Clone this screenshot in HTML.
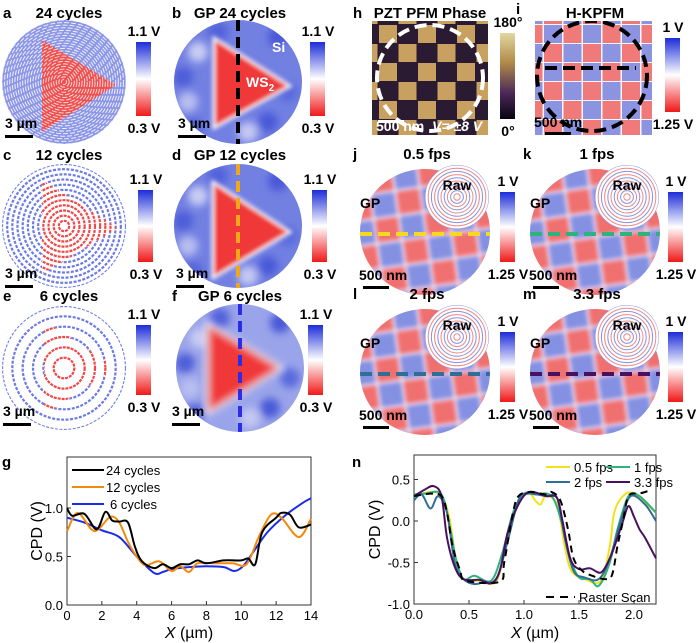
<!DOCTYPE html>
<html><head><meta charset="utf-8"><style>
html,body{margin:0;padding:0;background:#fff}
svg{display:block;font-family:"Liberation Sans",sans-serif}
.t{font-weight:bold;font-size:15px}
.cb{font-weight:bold;font-size:14px}
.ax{font-size:13px}
</style></head><body>
<svg id="fig" width="700" height="643" viewBox="0 0 700 643">
<defs>
<linearGradient id="gBR" x1="0" y1="0" x2="0" y2="1"><stop offset="0" stop-color="#1c2cd8"/><stop offset="0.5" stop-color="#ffffff"/><stop offset="1" stop-color="#f01818"/></linearGradient>
<linearGradient id="gPFM" x1="0" y1="0" x2="0" y2="1"><stop offset="0" stop-color="#e0d8a0"/><stop offset="0.35" stop-color="#b08848"/><stop offset="0.7" stop-color="#4a2858"/><stop offset="1" stop-color="#080410"/></linearGradient>
<filter id="blur2"><feGaussianBlur stdDeviation="2"/></filter>
<filter id="blur4"><feGaussianBlur stdDeviation="4"/></filter>
</defs>
<g id="panels"></g>
<g id="chartG"></g>
<g id="chartN"></g>
</svg>
<script>
// ---------- chart data ----------
const gX24 = [0,0.3,1,1.7,2.2,2.6,3,3.5,3.9,4.3,5,5.5,6,6.5,7,7.5,8,9,10,10.4,10.8,11.2,12,12.3,12.8,13.3,14];
const gY24 = [1.0,0.92,0.94,0.78,0.96,0.87,0.86,0.85,0.6,0.45,0.38,0.42,0.38,0.42,0.42,0.46,0.43,0.46,0.46,0.48,0.42,0.75,0.9,0.95,0.93,0.8,0.83];
const gX12 = [0,0.6,1.4,1.8,2.5,3,3.5,4,4.5,5.3,6,6.5,7,7.5,8.5,9.5,10.3,11,11.7,12.3,13.3,14];
const gY12 = [0.76,0.95,0.78,0.78,0.91,0.85,0.65,0.5,0.41,0.45,0.35,0.40,0.34,0.43,0.43,0.43,0.42,0.7,0.93,0.90,0.70,0.89];
const gX6 = [0,1,2,3,4,5,5.5,6,7,8,9,9.6,10.1,10.7,11.5,12.5,13.5,14];
const gY6 = [0.9,0.85,0.77,0.7,0.5,0.33,0.34,0.37,0.39,0.40,0.39,0.35,0.40,0.55,0.75,0.92,1.05,1.1];
const gXTicks = [0,2,4,6,8,10,12,14];
const gYTicks = [0.0,0.5,1.0];
const gLegend = ["24 cycles","12 cycles","6 cycles"];

const nXr = [0,0.15,0.25,0.3,0.35,0.42,0.47,0.78,0.82,0.9,0.95,1.05,1.2,1.25,1.33,1.4,1.45,1.53,1.6,1.73,1.8,1.85,1.9,1.95,2.05,2.15];
const nYr = [0.3,0.33,0.3,0.1,-0.3,-0.6,-0.72,-0.73,-0.5,0.1,0.3,0.35,0.32,0.35,0.25,-0.1,-0.45,-0.6,-0.65,-0.7,-0.65,-0.3,0,0.3,0.33,0.37];
const nX05 = [0,0.15,0.25,0.32,0.38,0.45,0.6,0.75,0.85,0.95,1.05,1.1,1.15,1.2,1.3,1.37,1.43,1.55,1.7,1.78,1.82,1.9,2.0,2.2];
const nY05 = [0.3,0.35,0.3,0.05,-0.45,-0.7,-0.72,-0.72,-0.2,0.25,0.33,0.25,0.2,0.3,0.2,-0.3,-0.6,-0.7,-0.72,-0.3,0.1,0.3,0.33,0.1];
const nX1 = [0,0.1,0.25,0.33,0.38,0.45,0.55,0.7,0.8,0.9,1.0,1.1,1.25,1.35,1.42,1.5,1.6,1.68,1.78,1.85,1.95,2.05,2.2];
const nY1 = [0.32,0.33,0.32,-0.1,-0.45,-0.7,-0.66,-0.72,-0.4,0.1,0.33,0.32,0.3,-0.05,-0.45,-0.68,-0.7,-0.78,-0.5,-0.1,0.3,0.3,0.1];
const nX2 = [0,0.07,0.15,0.22,0.3,0.37,0.45,0.55,0.65,0.75,0.85,0.95,1.03,1.2,1.3,1.37,1.45,1.55,1.68,1.78,1.88,1.97,2.1,2.2];
const nY2 = [0.25,0.32,0.15,0.3,0.1,-0.5,-0.7,-0.76,-0.73,-0.7,-0.25,0.25,0.33,0.3,0.28,-0.2,-0.6,-0.68,-0.7,-0.45,0,0.3,0.2,0.0];
const nX33 = [0,0.1,0.18,0.25,0.3,0.37,0.45,0.6,0.7,0.78,0.85,0.95,1.05,1.2,1.3,1.35,1.42,1.5,1.6,1.7,1.78,1.85,1.9,1.95,2.0,2.05,2.1,2.2];
const nY33 = [0.3,0.38,0.42,0.3,-0.2,-0.55,-0.7,-0.71,-0.75,-0.6,-0.15,0.2,0.35,0.3,0.28,0.0,-0.45,-0.58,-0.57,-0.62,-0.45,-0.2,0.0,0.18,0.05,-0.1,-0.2,-0.45];
const nXTicks = [0.0,0.5,1.0,1.5,2.0];
const nYTicks = [-1.0,-0.5,0.0,0.5];
const nLegend = ["0.5 fps","1 fps","2 fps","3.3 fps","Raster Scan"];

const NS="http://www.w3.org/2000/svg";
function mk(tag, parent, attrs){const e=document.createElementNS(NS,tag);for(const k in attrs)e.setAttribute(k,attrs[k]);parent.appendChild(e);return e;}
function smooth(pts){let d="M"+pts[0][0]+","+pts[0][1];for(let i=0;i<pts.length-1;i++){const p0=pts[Math.max(0,i-1)],p1=pts[i],p2=pts[i+1],p3=pts[Math.min(pts.length-1,i+2)];const c1x=p1[0]+(p2[0]-p0[0])/6,c1y=p1[1]+(p2[1]-p0[1])/6,c2x=p2[0]-(p3[0]-p1[0])/6,c2y=p2[1]-(p3[1]-p1[1])/6;d+=" C"+c1x+","+c1y+" "+c2x+","+c2y+" "+p2[0]+","+p2[1];}return d;}

// ---------- chart g ----------
(function(){
 const G=document.getElementById('chartG');
 const L=67,R=311,T=457,B=605;
 const sx=v=>L+(v-0)/(14-0)*(R-L);
 const sy=v=>B-(v-0)/(1.0-0)*97;
 const f=mk('rect',G,{x:L,y:T,width:R-L,height:B-T,fill:'none',stroke:'#333','stroke-width':1});
 
 gXTicks.forEach(v=>{mk('line',G,{x1:sx(v),x2:sx(v),y1:B,y2:B-4,stroke:'#333'});const t=mk('text',G,{x:sx(v),y:B+15,'text-anchor':'middle',class:'ax'});t.textContent=v;});
 gYTicks.forEach(v=>{mk('line',G,{x1:L,x2:L+4,y1:sy(v),y2:sy(v),stroke:'#333'});const t=mk('text',G,{x:L-4,y:sy(v)+5,'text-anchor':'end',class:'ax'});t.textContent=v.toFixed(1);});
 const xt=mk('text',G,{x:(L+R)/2,y:638,'text-anchor':'middle','font-size':'16'});xt.innerHTML='<tspan font-style="italic">X</tspan> (µm)';
 const yt=mk('text',G,{x:0,y:0,'text-anchor':'middle','font-size':'16',transform:`translate(42,${(T+B)/2}) rotate(-90)`});yt.textContent='CPD (V)';
 const ser=[[gX24,gY24,'#000'],[gX12,gY12,'#f58a0a'],[gX6,gY6,'#1a2ce8']];
 ser.slice().reverse().forEach(([xs,ys,c],k)=>{const p=mk('path',G,{d:smooth(xs.map((x,i)=>[sx(x),sy(ys[i])])),fill:'none',stroke:c,'stroke-width':2});});
 ser.forEach(([xs,ys,c],i)=>{const y=470+i*17;mk('line',G,{x1:72,x2:104,y1:y,y2:y,stroke:c,'stroke-width':2});const t=mk('text',G,{x:i==2?110:106,y:y+5,'font-size':'13'});t.textContent=gLegend[i];});
 const lb=mk('text',G,{x:2,y:467,class:'t'});lb.textContent='g';
})();

// ---------- chart n ----------
(function(){
 const G=document.getElementById('chartN');
 const L=414,R=656,T=455,B=604;
 const sx=v=>L+v*110;
 const sy=v=>521-v*83;
 const f=mk('rect',G,{x:L,y:T,width:R-L,height:B-T,fill:'none',stroke:'#333','stroke-width':1});
 
 nXTicks.forEach(v=>{mk('line',G,{x1:sx(v),x2:sx(v),y1:B,y2:B-4,stroke:'#333'});const t=mk('text',G,{x:sx(v),y:B+15,'text-anchor':'middle',class:'ax'});t.textContent=v.toFixed(1);});
 nYTicks.forEach(v=>{mk('line',G,{x1:L,x2:L+4,y1:sy(v),y2:sy(v),stroke:'#333'});const t=mk('text',G,{x:L-4,y:sy(v)+5,'text-anchor':'end',class:'ax'});t.textContent=v.toFixed(1);});
 const xt=mk('text',G,{x:(L+R)/2,y:638,'text-anchor':'middle','font-size':'16'});xt.innerHTML='<tspan font-style="italic">X</tspan> (µm)';
 const yt=mk('text',G,{x:0,y:0,'text-anchor':'middle','font-size':'16',transform:`translate(380,${(T+B)/2}) rotate(-90)`});yt.textContent='CPD (V)';
 const ser=[[nX05,nY05,'#f2e21c'],[nX1,nY1,'#2eb37a'],[nX2,nY2,'#2f6f95'],[nX33,nY33,'#4a1060']];
 ser.forEach(([xs,ys,c])=>{const p=mk('path',G,{d:smooth(xs.map((x,i)=>[sx(x),sy(ys[i])])),fill:'none',stroke:c,'stroke-width':2});});
 const r=mk('path',G,{d:smooth(nXr.map((x,i)=>[sx(x),sy(nYr[i])])),fill:'none',stroke:'#000','stroke-width':2,'stroke-dasharray':'7,5'});
 const pos=[[546,467],[606,467],[546,482],[606,482]];
 ser.forEach(([xs,ys,c],i)=>{const [x,y]=pos[i];mk('line',G,{x1:x,x2:x+24,y1:y,y2:y,stroke:c,'stroke-width':2});const t=mk('text',G,{x:x+28,y:y+5,'font-size':'13'});t.textContent=nLegend[i];});
 mk('line',G,{x1:546,x2:575,y1:597,y2:597,stroke:'#000','stroke-width':2,'stroke-dasharray':'8,6'});
 const rt=mk('text',G,{x:579,y:602,'font-size':'13'});rt.textContent=nLegend[4];
 const lb=mk('text',G,{x:352,y:467,class:'t'});lb.textContent='n';
})();

// ---------- image panels (decorative) ----------
(function(){
 const P=document.getElementById('panels');
 let cid=0;
 function txt(x,y,s,cls,anchor,fill){const t=mk('text',P,{x:x,y:y,class:cls,'text-anchor':anchor||'start',fill:fill||'#000'});t.textContent=s;return t;}
 function clip(shape){const id='c'+(cid++);const cp=mk('clipPath',P,{id:id});mk(shape.tag,cp,shape.a);return id;}
 function colorbar(x,y,h,top,bot,grad){const r=mk('rect',P,{x:x,y:y,width:15,height:h,fill:'url(#'+(grad||'gBR')+')'});txt(x+8,y-6,top,'cb','middle');txt(x+8,y+h+17,bot,'cb','middle');}
 function scalebar(x,y,s,fill){txt(x,y,s,'cb','start',fill);mk('rect',P,{x:x,y:y+7,width:28,height:3,fill:fill||'#000'});}
 function rings(g,cx,cy,r,n,col,w,dash){for(let i=1;i<=n;i++){mk('circle',g,{cx:cx,cy:cy,r:r*i/n,fill:'none',stroke:col,'stroke-width':w,'stroke-dasharray':dash||'none'});}}
 function raw(cx,cy,r,tri,n,dense){
   const id=clip({tag:'circle',a:{cx:cx,cy:cy,r:r}});
   const g=mk('g',P,{'clip-path':'url(#'+id+')'});
   mk('circle',g,{cx:cx,cy:cy,r:r,fill:dense?'#8c96e6':'#fff'});
   if(dense){rings(g,cx,cy,r,n,'#f0f0fc',1,'5,2');}
   else rings(g,cx,cy,r,n,'#6c7ae6',2.2,'3,1.5');
   const tid=clip({tag:'polygon',a:{points:tri}});
   const g2=mk('g',g,{'clip-path':'url(#'+tid+')'});
   mk('rect',g2,{x:cx-r,y:cy-r,width:2*r,height:2*r,fill:dense?'#ee5050':'#fff'});
   rings(g2,cx,cy,r,n,dense?'#fbd8d8':'#f04848',dense?1:2.2,dense?'5,2':'3,1');
 }
 function gp(cx,cy,rx,ry,tri,lineCol,blur){
   const id=clip({tag:'ellipse',a:{cx:cx,cy:cy,rx:rx,ry:ry}});
   const g=mk('g',P,{'clip-path':'url(#'+id+')'});
   mk('rect',g,{x:cx-rx,y:cy-ry,width:2*rx,height:2*ry,fill:blur?'#9aa4ea':'#7280e2'});
   const spots=[[-40,-30,'#c8ccf4'],[30,40,'#4a5ad8'],[-50,20,'#b8bef0'],[40,-45,'#4858d8'],[10,50,'#c4c8f2'],[-20,-50,'#5262dc'],[50,10,'#5a6adc'],[-45,45,'#5666da'],[-55,-5,'#4d5ed8']];
   const sg=mk('g',g,{filter:'url(#blur4)'});
   spots.forEach(s=>mk('circle',sg,{cx:cx+s[0],cy:cy+s[1],r:10,fill:s[2]}));
   const tg=mk('g',g,{filter:blur?'url(#blur4)':'url(#blur2)'});
   mk('polygon',tg,{points:tri,fill:'#fff',stroke:'#fff','stroke-width':5});
   mk('polygon',tg,{points:tri,fill:'#f03838'});
   mk('line',g,{x1:cx,x2:cx,y1:cy-ry,y2:cy+ry,stroke:lineCol,'stroke-width':4,'stroke-dasharray':'11,6'});
 }
 // a
 txt(3,18,'a','t');txt(69,18,'24 cycles','t','middle');
 raw(64,82,62,'42,40 116,85 42,132',24,true);
 colorbar(136,42,74,'1.1 V','0.3 V');scalebar(5,128,'3 µm');
 // b
 txt(172,18,'b','t');txt(240,18,'GP 24 cycles','t','middle');
 gp(238,82,64,62,'215,40 288,86 215,126','#000',false);
 txt(272,52,'Si','cb','start','#fff');
 const ws=txt(246,87,'WS','cb','start','#fff');const sub=document.createElementNS(NS,'tspan');sub.setAttribute('font-size','10');sub.setAttribute('dy','4');sub.textContent='2';ws.appendChild(sub);
 colorbar(310,42,74,'1.1 V','0.3 V');scalebar(178,128,'3 µm');
 // c
 txt(3,160,'c','t');txt(69,160,'12 cycles','t','middle');
 raw(64,226,62,'42,180 118,228 42,274',12,false);
 colorbar(138,190,72,'1.1 V','0.3 V');scalebar(5,278,'3 µm');
 // d
 txt(172,160,'d','t');txt(240,160,'GP 12 cycles','t','middle');
 gp(238,226,64,62,'214,184 288,232 214,276','#f0a818',false);
 colorbar(312,190,72,'1.1 V','0.3 V');scalebar(176,278,'3 µm');
 // e
 txt(3,301,'e','t');txt(69,301,'6 cycles','t','middle');
 raw(64,368,62,'44,320 116,368 44,415',6,false);
 colorbar(136,325,70,'1.1 V','0.3 V');scalebar(3,416,'3 µm');
 // f
 txt(172,301,'f','t');txt(240,301,'GP 6 cycles','t','middle');
 gp(240,368,64,64,'208,325 280,368 208,412','#2a2ce8',true);
 colorbar(308,325,70,'1.1 V','0.3 V');scalebar(172,416,'3 µm');
 // h PFM
 txt(353,18,'h','t');txt(430,18,'PZT PFM Phase','t','middle');
 (function(){const id=clip({tag:'rect',a:{x:372,y:21,width:116,height:114}});const g=mk('g',P,{'clip-path':'url(#'+id+')'});
  mk('rect',g,{x:372,y:21,width:116,height:114,fill:'#2a1a32'});
  for(let i=-1;i<7;i++)for(let j=-1;j<7;j++)if((i+j)%2==0)mk('rect',g,{x:379+i*19.5,y:25+j*19,width:18,height:18,fill:'#c8a060'});
  mk('circle',g,{cx:430,cy:78,r:53,fill:'none',stroke:'#fff','stroke-width':4,'stroke-dasharray':'12,6'});})();
 colorbar(500,33,86,'180°','0°','gPFM');
 txt(376,131,'500 nm','cb','start','#fff');mk('rect',P,{x:378,y:120,width:26,height:3,fill:'#fff'});
 const vt=txt(432,131,'V= ±8 V','cb','start','#fff');vt.setAttribute('font-style','italic');
 // i KPFM
 txt(516,14,'i','t');txt(595,18,'H-KPFM','t','middle');
 (function(){const id=clip({tag:'rect',a:{x:535,y:21,width:117,height:114}});const g=mk('g',P,{'clip-path':'url(#'+id+')'});
  mk('rect',g,{x:535,y:21,width:117,height:114,fill:'#f6f6fa'});
  for(let i=-1;i<7;i++)for(let j=-1;j<7;j++)mk('rect',g,{x:544+i*19.5,y:25+j*19,width:18,height:18,fill:(i+j)%2==0?'#8c94e2':'#f07a7a'});
  mk('circle',g,{cx:592,cy:76,r:55,fill:'none',stroke:'#000','stroke-width':4,'stroke-dasharray':'12,6'});
  mk('line',g,{x1:545,x2:636,y1:68,y2:68,stroke:'#000','stroke-width':4,'stroke-dasharray':'12,6'});})();
 colorbar(665,38,74,'1 V','1.25 V');
 txt(534,127,'500 nm','cb');mk('rect',P,{x:545,y:132,width:26,height:3,fill:'#000'});
 // j-m
 const fps=[['j','0.5 fps',425,232,'#f5d820',500],['k','1 fps',595,232,'#2eb37a',668],['l','2 fps',425,372,'#2f6f95',500],['m','3.3 fps',595,372,'#4a1060',668]];
 fps.forEach(([lab,ti,cx,cy,lc,cbx],k)=>{
  txt(cx-72,cy-73,lab,'t');txt(cx+2,cy-73,ti,'t','middle');
  const id=clip({tag:'ellipse',a:{cx:cx,cy:cy,rx:65,ry:63}});
  const g=mk('g',P,{'clip-path':'url(#'+id+')'});
  mk('rect',g,{x:cx-70,y:cy-70,width:140,height:140,fill:'#f4f4fa'});
  const cg=mk('g',g,{transform:`rotate(-8 ${cx} ${cy})`,filter:'url(#blur2)'});
  for(let i=-4;i<4;i++)for(let j=-4;j<4;j++)mk('rect',cg,{x:cx+i*25+2,y:cy+j*25+6,width:23,height:23,fill:(i+j)%2==0?'#8490e2':'#f07070'});
  mk('line',g,{x1:cx-65,x2:cx+65,y1:cy+2,y2:cy+2,stroke:lc,'stroke-width':4,'stroke-dasharray':'12,6'});
  const rx=cx+32,ry=cy-35;
  const id2=clip({tag:'circle',a:{cx:rx,cy:ry,r:32}});
  const g2=mk('g',P,{'clip-path':'url(#'+id2+')'});
  mk('circle',g2,{cx:rx,cy:ry,r:32,fill:'#fff'});
  for(let i=1;i<=10;i++)mk('circle',g2,{cx:rx,cy:ry,r:i*3.2,fill:'none',stroke:i%2?'#f08888':'#8890e0','stroke-width':1});
  txt(cx-65,cy-24,'GP','cb');txt(cx+32,cy-42,'Raw','cb','middle');
  colorbar(cbx,cy-40,70,'1 V','1.25 V');
  txt(cx-66,cy+48,'500 nm','cb');mk('rect',P,{x:cx-62,y:cy+54,width:26,height:3,fill:'#000'});
 });
})();
</script>
</body></html>
